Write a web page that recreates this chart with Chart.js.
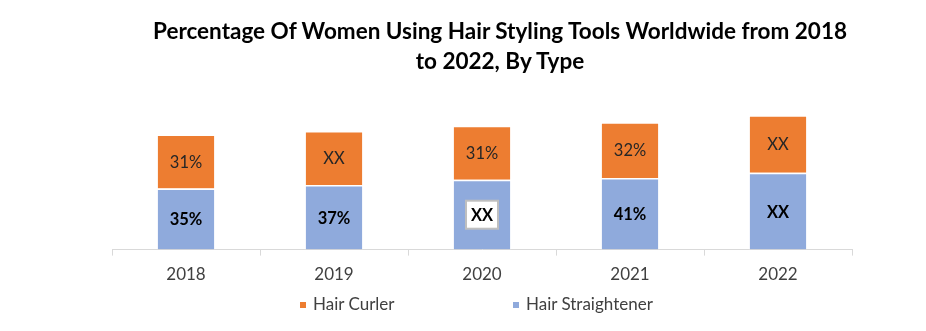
<!DOCTYPE html>
<html lang="en">
  <head>
    <meta charset="UTF-8" />
    <title>Hair Styling Tools</title>
    <script src="https://cdn.jsdelivr.net/npm/chart.js"></script>
    <style>
      body {
        margin: 0;
        background: #ffffff;
        font-family: Lato, sans-serif;
      }
      .wrap {
        position: relative;
        width: 926px;
        height: 331px;
        overflow: hidden;
      }
      canvas {
        position: absolute;
        left: 0;
        top: 0;
      }
      .title {
        position: absolute;
        left: 100px;
        width: 800px;
        top: 16px;
        text-align: center;
        font-weight: bold;
        font-size: 22.5px;
        line-height: 30px;
        color: #000000;
      }
      .legend-item {
        position: absolute;
        top: 294px;
        font-size: 17px;
        line-height: 20px;
        color: #404040;
      }
      .legend-item i {
        display: inline-block;
        width: 6px;
        height: 6px;
        margin-right: 7px;
        vertical-align: 2px;
      }
    </style>
  </head>
  <body>
    <div class="wrap">
      <canvas id="chart" width="926" height="331"></canvas>
      <div class="title">
        Percentage Of Women Using Hair Styling Tools Worldwide from 2018<br />to 2022, By Type
      </div>
      <div class="legend-item" style="left: 300px">
        <i style="background: #ed7d31"></i>Hair Curler
      </div>
      <div class="legend-item" style="left: 513px">
        <i style="background: #8faadc"></i>Hair Straightener
      </div>
    </div>

    <script>
      // datos
      const years = ["2018", "2019", "2020", "2021", "2022"];
      const straightener = [35, 37, 40, 41, 44];
      const curler = [31, 31, 31, 32, 33];
      const straightenerLabels = ["35%", "37%", "XX", "41%", "XX"];
      const curlerLabels = ["31%", "XX", "31%", "32%", "XX"];

      // etiquetas dentro de las barras
      const barLabels = {
        id: "barLabels",
        afterDatasetsDraw(chart, args, opts) {
          const ctx = chart.ctx;
          ctx.save();
          ctx.textAlign = "center";
          ctx.textBaseline = "middle";
          chart.data.datasets.forEach((ds, di) => {
            const meta = chart.getDatasetMeta(di);
            const texts = opts.texts[di];
            meta.data.forEach((bar, i) => {
              const x = bar.x;
              const y = (bar.y + bar.base) / 2;
              const boxed = opts.boxed.some((b) => b[0] === di && b[1] === i);
              if (boxed) {
                ctx.fillStyle = "#ffffff";
                ctx.strokeStyle = "#bfbfbf";
                ctx.lineWidth = 2;
                ctx.fillRect(x - 16, y - 14, 32, 28);
                ctx.strokeRect(x - 16, y - 14, 32, 28);
              }
              ctx.font = (opts.bold[di] ? "bold " : "") + "16.5px Lato";
              ctx.fillStyle = opts.bold[di] ? "#000000" : "#262626";
              ctx.fillText(texts[i], x, y + 1);
            });
          });
          ctx.restore();
        },
      };

      new Chart(document.getElementById("chart"), {
        type: "bar",
        data: {
          labels: years,
          datasets: [
            {
              label: "Hair Straightener",
              data: straightener,
              backgroundColor: "#8faadc",
              borderColor: "#ffffff",
              borderWidth: 1.5,
            },
            {
              label: "Hair Curler",
              data: curler,
              backgroundColor: "#ed7d31",
              borderColor: "#ffffff",
              borderWidth: 1.5,
            },
          ],
        },
        options: {
          responsive: false,
          animation: false,
          barPercentage: 0.4,
          categoryPercentage: 1,
          layout: {
            padding: { left: 112, right: 74, top: 110, bottom: 37 },
          },
          plugins: {
            legend: { display: false },
            title: { display: false },
            tooltip: { enabled: false },
            barLabels: {
              texts: [straightenerLabels, curlerLabels],
              bold: [true, false],
              boxed: [[0, 2]],
            },
          },
          scales: {
            x: {
              stacked: true,
              grid: {
                offset: true,
                drawOnChartArea: false,
                drawTicks: true,
                tickLength: 6,
                color: "#d9d9d9",
              },
              border: { display: true, color: "#d9d9d9", width: 1 },
              ticks: {
                color: "#404040",
                padding: 9,
                font: { family: "Lato", size: 17 },
              },
            },
            y: {
              stacked: true,
              display: false,
              min: 0,
              max: 80,
            },
          },
        },
        plugins: [barLabels],
      });
    </script>
  </body>
</html>
